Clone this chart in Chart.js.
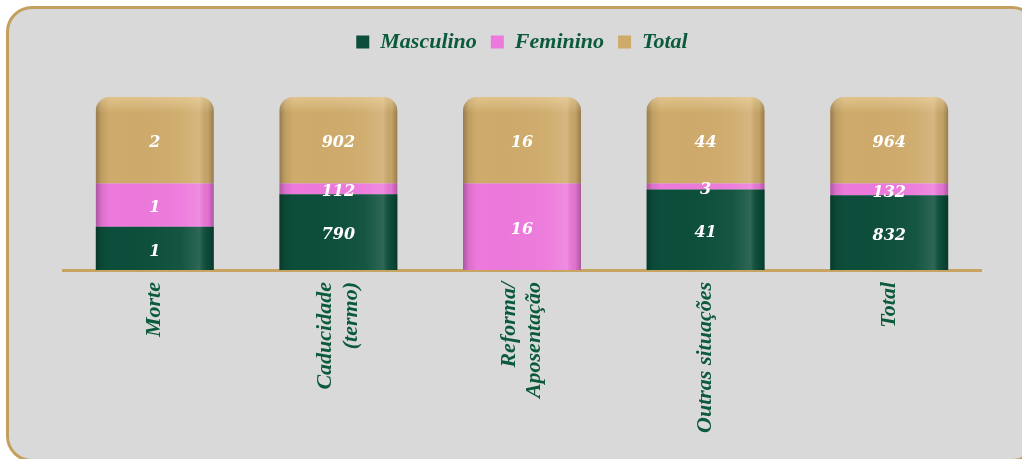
<!DOCTYPE html>
<html><head><meta charset="utf-8">
<script src="https://cdn.jsdelivr.net/npm/chart.js@4"></script>
<style>
html,body{margin:0;padding:0;background:#fff;width:1022px;height:459px;overflow:hidden;position:relative}
#frame{position:absolute;left:6px;top:6px;width:1032px;height:456px;box-sizing:border-box;border:3px solid #c4a060;border-radius:26px;background:#d9d9d9}
#c{position:absolute;left:0;top:0}
</style></head><body>
<div id="frame"></div>
<canvas id="c" width="1022" height="459"></canvas>
<script>
const categories = ['Morte', ['Caducidade', '(termo)'], ['Reforma/', 'Aposentação'], 'Outras situações', 'Total'];
const masculino = [1, 790, 0, 41, 832];
const feminino = [1, 112, 16, 3, 132];
const total = [2, 902, 16, 44, 964];
const seriesNames = ['Masculino', 'Feminino', 'Total'];

const share = (arr) => arr.map((v, i) => v / (2 * total[i]) * 100);
const GREEN_TXT = '#0b5a3b';
const TICK_SIZE = 22, TICK_LH = 1.15;

const centerLinesPlugin = {
  id: 'centerLines',
  beforeDraw(chart) {
    const s = chart.scales.x;
    const items = s.getLabelItems(chart.chartArea);
    items.forEach(it => {
      if (it._centered) return;
      it._centered = true;
      if (Array.isArray(it.label) && it.label.length > 1) {
        it.textOffset -= (it.label.length - 1) * TICK_SIZE * TICK_LH / 2;
      }
    });
  }
};

const shadePlugin = {
  id: 'shade',
  afterDatasetsDraw(chart) {
    const ctx = chart.ctx;
    const metas = chart.data.datasets.map((d, i) => chart.getDatasetMeta(i));
    const n = chart.data.labels.length;
    for (let i = 0; i < n; i++) {
      const els = metas.map(m => m.data[i]);
      const el0 = els[0];
      const w = el0.width;
      const left = el0.x - w / 2;
      const top = Math.min(...els.map(e => Math.min(e.y, e.base)));
      const bottom = Math.max(...els.map(e => Math.max(e.y, e.base)));
      ctx.save();
      ctx.beginPath();
      ctx.roundRect(left, top, w, bottom - top, [14, 14, 0, 0]);
      ctx.clip();
      const g = ctx.createLinearGradient(left, 0, left + w, 0);
      g.addColorStop(0, 'rgba(0,0,0,0.28)');
      g.addColorStop(0.05, 'rgba(0,0,0,0.08)');
      g.addColorStop(0.12, 'rgba(0,0,0,0)');
      g.addColorStop(0.72, 'rgba(255,255,255,0.04)');
      g.addColorStop(0.88, 'rgba(255,255,255,0.14)');
      g.addColorStop(0.95, 'rgba(0,0,0,0.05)');
      g.addColorStop(1, 'rgba(0,0,0,0.28)');
      ctx.fillStyle = g;
      ctx.fillRect(left, top, w, bottom - top);
      const gv = ctx.createLinearGradient(0, top, 0, top + 16);
      gv.addColorStop(0, 'rgba(255,240,200,0.35)');
      gv.addColorStop(1, 'rgba(255,240,200,0)');
      ctx.fillStyle = gv;
      ctx.fillRect(left, top, w, 16);
      ctx.restore();
    }
    // value labels
    ctx.save();
    ctx.fillStyle = '#ffffff';
    ctx.font = 'italic bold 16px "DejaVu Serif"';
    ctx.textAlign = 'center';
    ctx.textBaseline = 'middle';
    chart.data.datasets.forEach((ds, di) => {
      metas[di].data.forEach((el, i) => {
        const v = ds.raw[i];
        if (!v) return;
        ctx.fillText(String(v), el.x, (el.y + el.base) / 2 + 3);
      });
    });
    ctx.restore();
  }
};

new Chart(document.getElementById('c'), {
  type: 'bar',
  data: {
    labels: categories,
    datasets: [
      { label: seriesNames[0], data: share(masculino), raw: masculino, backgroundColor: '#0c4e3b' },
      { label: seriesNames[1], data: share(feminino), raw: feminino, backgroundColor: '#ed79dc' },
      { label: seriesNames[2], data: share(total), raw: total, backgroundColor: '#cfab6b',
        borderRadius: { topLeft: 14, topRight: 14, bottomLeft: 0, bottomRight: 0 }, borderSkipped: 'bottom' }
    ]
  },
  options: {
    responsive: false,
    animation: false,
    devicePixelRatio: 1,
    datasets: { bar: { categoryPercentage: 1, barPercentage: 0.643 } },
    layout: { padding: { top: 17, left: 63, right: 41, bottom: 0 } },
    plugins: {
      legend: {
        position: 'top',
        labels: {
          boxWidth: 13, boxHeight: 13, padding: 14, color: GREEN_TXT,
          font: { family: 'Liberation Serif', size: 22, style: 'italic', weight: 'bold' }
        }
      },
      title: { display: true, text: '', weight: 500, padding: 0, font: { size: 34, lineHeight: 1 } },
      tooltip: { enabled: false }
    },
    scales: {
      x: {
        stacked: true,
        grid: { display: false, drawTicks: false },
        border: { display: true, color: '#c8a462', width: 3 },
        ticks: {
          autoSkip: false, minRotation: 90, maxRotation: 90, padding: 12, color: GREEN_TXT,
          font: { family: 'Liberation Serif', size: TICK_SIZE, style: 'italic', weight: 'bold', lineHeight: TICK_LH }
        },
        afterFit(scale) { scale.height = 189; }
      },
      y: { stacked: true, display: false, min: 0, max: 100 }
    }
  },
  plugins: [centerLinesPlugin, shadePlugin]
});
</script>
</body></html>
